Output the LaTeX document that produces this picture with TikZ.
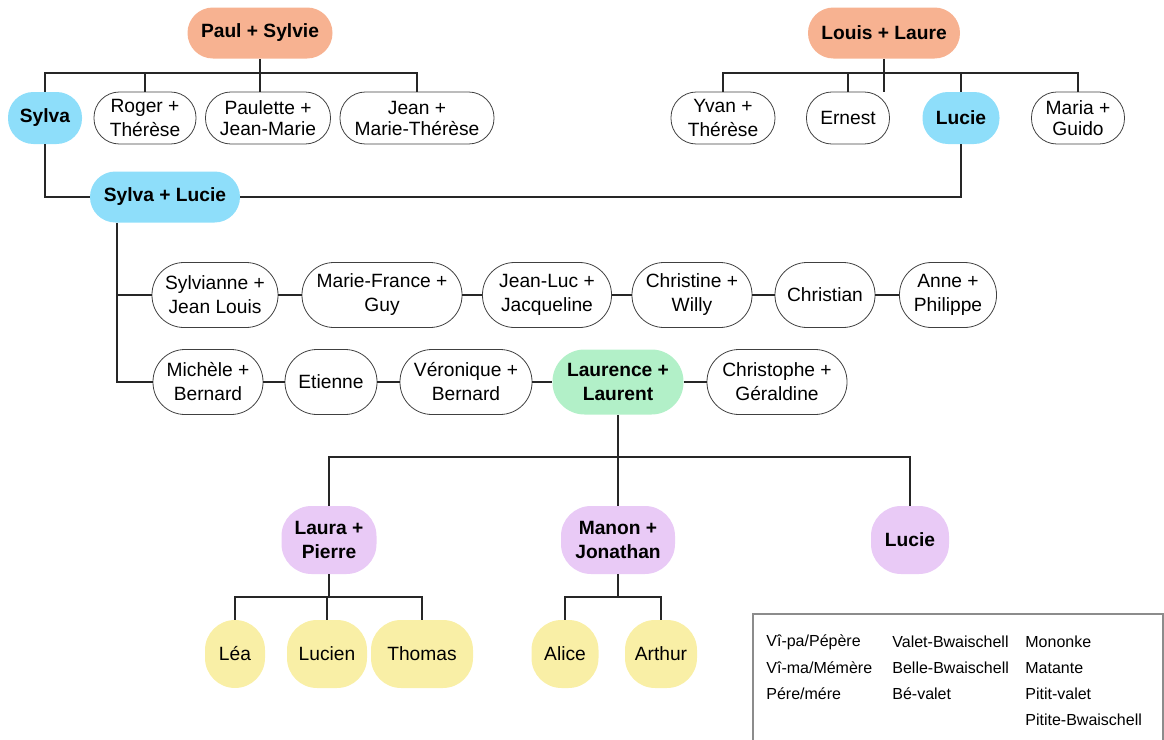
\documentclass[tikz,border=0pt]{standalone}
\usepackage{fontspec}
\setmainfont{Liberation Sans}
\definecolor{orangep}{RGB}{247,178,145}
\definecolor{bluep}{RGB}{142,222,250}
\definecolor{greenp}{RGB}{178,240,200}
\definecolor{purplep}{RGB}{233,202,246}
\definecolor{yellowp}{RGB}{249,239,166}
\begin{document}
\begin{tikzpicture}[x=0.5pt,y=-0.5pt,
    person/.style={draw=black!75, line width=0.4pt, align=center, inner sep=0pt, font=\fontsize{9.6}{12}\selectfont},
    one/.style={person, minimum height=25.5pt, rounded corners=12.7pt},
    two/.style={person, minimum height=32.5pt, rounded corners=16pt},
    kid/.style={person, draw=none, minimum height=34pt, rounded corners=15pt, font=\fontsize{9.6}{12}\selectfont\bfseries},
    link/.style={line width=0.6pt, black!85},
    legend/.style={anchor=west, inner sep=0pt, font=\fontsize{8}{10}\selectfont}]
\useasboundingbox (0,0) rectangle (1164,740);

\node[one, draw=none, fill=orangep, font=\fontsize{9.6}{12}\selectfont\bfseries, minimum width=72.5pt] (paul) at (260,33) {Paul + Sylvie};
\node[one, draw=none, fill=orangep, font=\fontsize{9.6}{12}\selectfont\bfseries, minimum width=76pt] (louis) at (884,33) {Louis + Laure};

\node[one, draw=none, fill=bluep, font=\fontsize{9.6}{12}\selectfont\bfseries, minimum width=37pt, minimum height=26pt] (sylva) at (45,118) {Sylva};
\node[one, minimum width=51pt, minimum height=26pt] (roger) at (145,118) {Roger +\\Thérèse};
\node[one, minimum width=62.5pt, minimum height=26pt, font=\fontsize{9.6}{10.5}\selectfont] (paulette) at (268,118) {Paulette +\\Jean-Marie};
\node[one, minimum width=77pt, minimum height=26pt, font=\fontsize{9.6}{10.5}\selectfont] (jean) at (417,118) {Jean +\\Marie-Thérèse};

\node[one, minimum width=52pt, minimum height=26pt] (yvan) at (723,118) {Yvan +\\Thérèse};
\node[one, minimum width=41.5pt, minimum height=26pt] (ernest) at (848,118) {Ernest};
\node[one, draw=none, fill=bluep, font=\fontsize{9.6}{12}\selectfont\bfseries, minimum width=38.5pt, minimum height=26pt] (lucie) at (961,118) {Lucie};
\node[one, minimum width=46.5pt, minimum height=26pt, font=\fontsize{9.6}{10.5}\selectfont] (maria) at (1078,118) {Maria +\\Guido};

\node[one, draw=none, fill=bluep, font=\fontsize{9.6}{12}\selectfont\bfseries, minimum width=75pt] (sl) at (165,197) {Sylva + Lucie};

\node[two, minimum width=63pt] (sylvianne) at (215,295) {Sylvianne +\\Jean Louis};
\node[two, minimum width=80pt] (mariefrance) at (382,295) {Marie-France +\\Guy};
\node[two, minimum width=64.5pt] (jeanluc) at (547,295) {Jean-Luc +\\Jacqueline};
\node[two, minimum width=60pt] (christine) at (692,295) {Christine +\\Willy};
\node[two, minimum width=50pt] (christian) at (825,295) {Christian};
\node[two, minimum width=48.5pt] (anne) at (948,295) {Anne +\\Philippe};

\node[two, minimum width=55pt] (michele) at (208,382) {Michèle +\\Bernard};
\node[two, minimum width=46pt] (etienne) at (331,382) {Etienne};
\node[two, minimum width=66pt] (veronique) at (466,382) {Véronique +\\Bernard};
\node[two, draw=none, fill=greenp, font=\fontsize{9.6}{12}\selectfont\bfseries, minimum width=65.5pt] (laurence) at (618,382) {Laurence +\\Laurent};
\node[two, minimum width=70pt] (christophe) at (777,382) {Christophe +\\Géraldine};

\node[kid, fill=purplep, minimum width=47.5pt] (laura) at (329,540) {Laura +\\Pierre};
\node[kid, fill=purplep, minimum width=57pt] (manon) at (618,540) {Manon +\\Jonathan};
\node[kid, fill=purplep, minimum width=39pt] (lucie2) at (910,540) {Lucie};

\node[kid, fill=yellowp, font=\fontsize{9.6}{12}\selectfont, minimum width=30pt] (lea) at (235,654) {Léa};
\node[kid, fill=yellowp, font=\fontsize{9.6}{12}\selectfont, minimum width=40pt] (lucien) at (327,654) {Lucien};
\node[kid, fill=yellowp, font=\fontsize{9.6}{12}\selectfont, minimum width=51pt] (thomas) at (422,654) {Thomas};
\node[kid, fill=yellowp, font=\fontsize{9.6}{12}\selectfont, minimum width=33.5pt] (alice) at (565,654) {Alice};
\node[kid, fill=yellowp, font=\fontsize{9.6}{12}\selectfont, minimum width=36pt] (arthur) at (661,654) {Arthur};

\coordinate (pbar) at (260,73);
\coordinate (lbar) at (884,73);
\coordinate (trunk) at (117,0);
\coordinate (kbar) at (615,457);
\coordinate (gbar) at (0,597);

\draw[link] (paul.south) -- (paul |- paulette.north);
\draw[link] (sylva.north) |- (jean.north |- pbar) -- (jean.north);
\draw[link] (roger.north) -- (roger |- pbar);

\draw[link] (louis.south) -- (louis |- lucie.north);
\draw[link] (yvan.north) |- (maria.north |- lbar) -- (maria.north);
\draw[link] (ernest.north) -- (ernest |- lbar);
\draw[link] (lucie.north) -- (lucie |- lbar);

\draw[link] (sylva.south) |- (sl.west);
\draw[link] (lucie.south) |- (sl.east);

\draw[link] (trunk |- sl.south) |- (michele.west);
\draw[link] (trunk |- sylvianne.west) -- (sylvianne.west);
\foreach \a/\b in {sylvianne/mariefrance, mariefrance/jeanluc, jeanluc/christine, christine/christian, christian/anne, michele/etienne, etienne/veronique, veronique/laurence, laurence/christophe}
    \draw[link] (\a) -- (\b);

\draw[link] (laurence.south) -- (laurence |- kbar);
\draw[link] (laura.north) |- (lucie2.north |- kbar) -- (lucie2.north);
\draw[link] (manon.north) -- (manon |- kbar);

\draw[link] (laura.south) -- (laura |- gbar);
\draw[link] (lea.north) |- (thomas.north |- gbar) -- (thomas.north);
\draw[link] (lucien.north) -- (lucien |- gbar);
\draw[link] (manon.south) -- (manon |- gbar);
\draw[link] (alice.north) |- (arthur.north |- gbar) -- (arthur.north);

\draw[black!45, line width=0.6pt] (753,614) rectangle (1163,760);
\node[legend] (vipa) at (766,642) {Vî-pa/Pépère};
\node[legend] (vima) at (766,668) {Vî-ma/Mémère};
\node[legend] (pere) at (766,694) {Pére/mére};
\node[legend] (valet) at (892,642) {Valet-Bwaischell};
\node[legend] (belle) at (892,668) {Belle-Bwaischell};
\node[legend] (bevalet) at (892,694) {Bé-valet};
\node[legend] (mononke) at (1025,642) {Mononke};
\node[legend] (matante) at (1025,668) {Matante};
\node[legend] (pitit) at (1025,694) {Pitit-valet};
\node[legend] (pitite) at (1025,720) {Pitite-Bwaischell};
\end{tikzpicture}
\end{document}
